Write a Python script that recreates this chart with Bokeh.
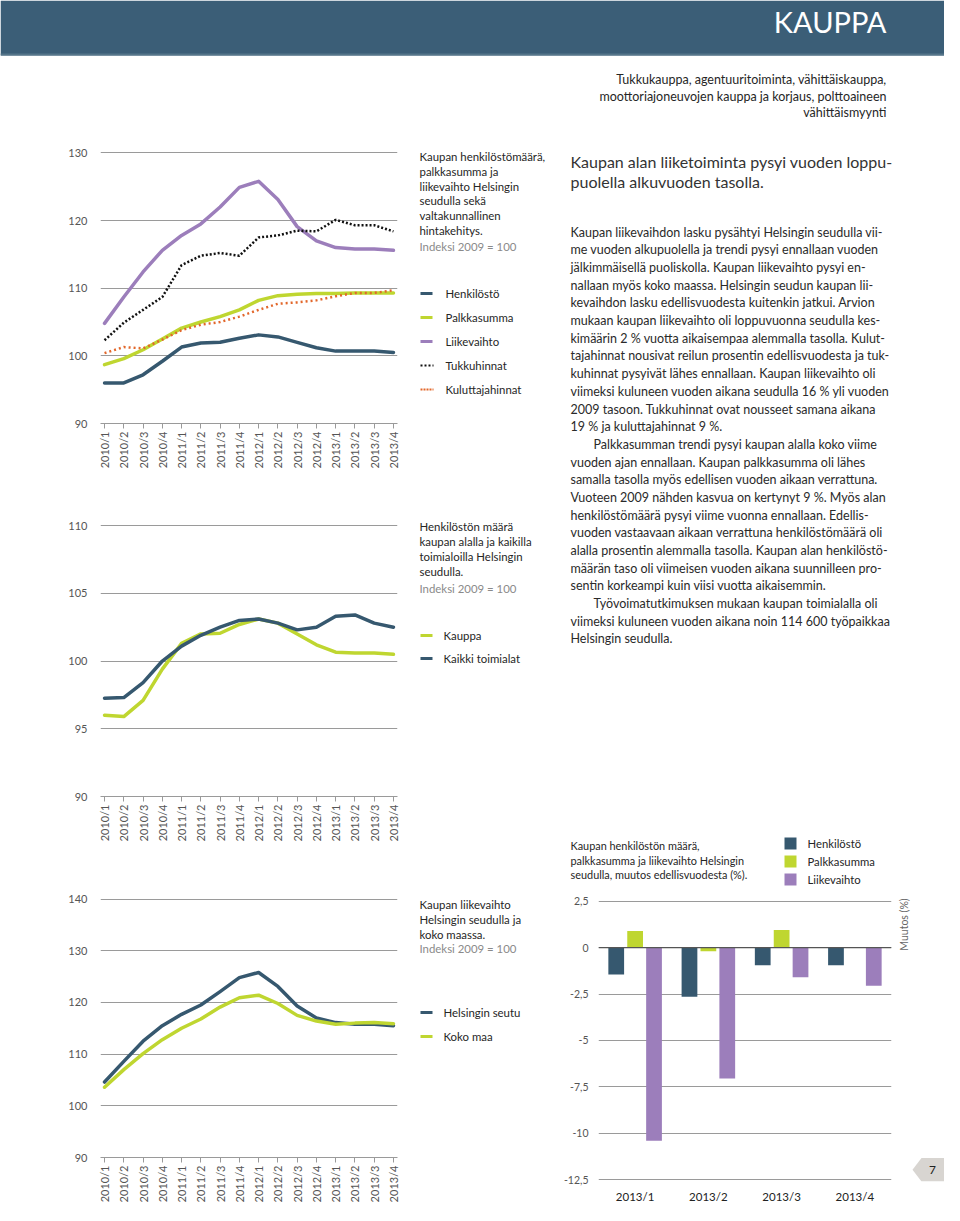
import math
from bokeh.plotting import figure
from bokeh.models import Range1d, FixedTicker, FactorRange, ColumnDataSource, Span
from bokeh.layouts import row, column
from bokeh.transform import dodge
from bokeh.core.properties import value
from bokeh.embed import file_html
from bokeh.resources import INLINE

# ---------------- data ----------------
quarters = ["2010/1", "2010/2", "2010/3", "2010/4", "2011/1", "2011/2", "2011/3", "2011/4",
            "2012/1", "2012/2", "2012/3", "2012/4", "2013/1", "2013/2", "2013/3", "2013/4"]

# Chart 1: index 2009 = 100
henkilosto = [96.0, 96.0, 97.2, 99.2, 101.3, 101.9, 102.0, 102.6, 103.1, 102.8, 102.0, 101.2, 100.7, 100.7, 100.7, 100.5]
palkkasumma = [98.7, 99.6, 100.9, 102.5, 104.1, 105.0, 105.8, 106.8, 108.2, 108.9, 109.1, 109.2, 109.2, 109.3, 109.3, 109.3]
liikevaihto = [104.8, 108.7, 112.4, 115.6, 117.8, 119.5, 122.0, 124.9, 125.8, 123.1, 119.1, 117.0, 116.0, 115.8, 115.8, 115.6]
tukkuhinnat = [102.3, 104.9, 106.8, 108.7, 113.4, 114.8, 115.2, 114.8, 117.5, 117.8, 118.5, 118.4, 120.1, 119.3, 119.3, 118.4]
kuluttajahinnat = [100.4, 101.3, 101.1, 102.4, 103.8, 104.6, 105.0, 105.8, 106.8, 107.7, 107.9, 108.2, 108.8, 109.3, 109.3, 109.7]

# Chart 2
kauppa = [96.0, 95.9, 97.1, 99.4, 101.3, 102.0, 102.05, 102.7, 103.1, 102.8, 102.0, 101.2, 100.65, 100.6, 100.6, 100.5]
kaikki_toimialat = [97.26, 97.3, 98.4, 100.0, 101.1, 101.9, 102.5, 103.0, 103.1, 102.8, 102.3, 102.5, 103.3, 103.4, 102.8, 102.5]

# Chart 3
helsingin_seutu = [104.6, 108.6, 112.5, 115.5, 117.7, 119.5, 122.1, 124.8, 125.8, 123.1, 119.3, 117.0, 116.1, 115.8, 115.8, 115.5]
koko_maa = [103.6, 107.0, 110.1, 112.8, 115.0, 116.8, 119.1, 120.9, 121.4, 119.8, 117.5, 116.4, 115.8, 116.0, 116.1, 115.9]

# Bar chart: change from previous year (%)
bar_quarters = ["2013/1", "2013/2", "2013/3", "2013/4"]
henk_chg = [-1.45, -2.65, -0.95, -0.95]
palk_chg = [0.9, -0.2, 0.95, 0.0]
liike_chg = [-10.4, -7.05, -1.6, -2.05]
bar_ticks = [-12.5, -10, -7.5, -5, -2.5, 0, 2.5]
bar_tick_labels = ["-12,5", "-10", "-7,5", "-5", "-2,5", "0", "2,5"]

# ---------------- styles ----------------
FONT = "Lato"
HEADER = "#3b5e77"
DARK = "#36586f"
GREEN = "#bfd630"
PURPLE = "#9c7ebb"
ORANGE = "#e2672b"
BLACK = "#111111"
GRID = "#9a9a9a"
TICK = "#555555"
TEXT = "#262626"


def blank(w, h, x0, x1, y0, y1):
    p = figure(width=w, height=h, x_range=Range1d(x0, x1), y_range=Range1d(y1, y0),
               output_backend="svg", toolbar_location=None,
               x_axis_location=None, y_axis_location=None, min_border=0)
    p.grid.visible = False
    p.outline_line_color = None
    return p


def txt(p, xs, ys, lines, size, color=TEXT, align="left", angle=0.0, style="normal"):
    p.text(x=xs, y=ys, text=lines, text_font=value(FONT), text_font_size=value(f"{size}px"),
           text_color=color, text_align=align, text_baseline="middle", angle=angle,
           text_font_style=style)


def line_chart(h, ymin, ymax, ypad, border_top, frame_h):
    w = 410
    left = 100
    fw = 297
    p = figure(width=w, height=h, x_range=Range1d(-0.21, 15.21), y_range=Range1d(ymin, ymax + ypad),
               output_backend="svg", toolbar_location=None,
               min_border_left=left, min_border_right=w - left - fw,
               min_border_top=border_top, min_border_bottom=h - border_top - frame_h)
    p.outline_line_color = None
    p.xgrid.visible = False
    xa = p.xaxis[0]
    xa.ticker = FixedTicker(ticks=list(range(len(quarters))))
    xa.major_label_overrides = {i: q for i, q in enumerate(quarters)}
    xa.major_label_orientation = math.pi / 2
    xa.axis_line_color = GRID
    xa.major_tick_line_color = GRID
    xa.major_tick_out = 5
    xa.major_tick_in = 0
    xa.minor_tick_line_color = None
    xa.major_label_standoff = 3
    xa.major_label_text_font = FONT
    xa.major_label_text_font_size = "11px"
    xa.major_label_text_color = TICK
    ya = p.yaxis[0]
    step = 10 if ymax - ymin > 20 else 5
    yt = list(range(ymin, ymax + 1, step))
    ya.ticker = FixedTicker(ticks=yt)
    ya.axis_line_color = None
    ya.major_tick_line_color = None
    ya.minor_tick_line_color = None
    ya.major_label_standoff = 7
    ya.major_label_text_font = FONT
    ya.major_label_text_font_size = "11px"
    ya.major_label_text_color = TICK
    p.ygrid.ticker = FixedTicker(ticks=yt)
    p.ygrid.grid_line_color = GRID
    return p


xs = list(range(len(quarters)))
SOLID = dict(line_width=3.5, line_join="round", line_cap="round")

# ---------------- header ----------------
head = blank(944, 140, 0, 944, 0, 140)
head.quad(left=[0], right=[944], top=[0], bottom=[55], fill_color=HEADER, line_color=None)
head.line([0, 944], [54, 54], color="#557589", line_width=2)
txt(head, [886], [21], ["KAUPPA"], 29, color="white", align="right")
txt(head, [886, 886, 886], [79, 96, 112],
    ["Tukkukauppa, agentuuritoiminta, vähittäiskauppa,",
     "moottoriajoneuvojen kauppa ja korjaus, polttoaineen",
     "vähittäismyynti"], 12.5, align="right")

# ---------------- chart 1 ----------------
c1 = line_chart(360, 90, 130, 0.5, 9, 274)
c1.line(xs, liikevaihto, color=PURPLE, **SOLID)
c1.line(xs, palkkasumma, color=GREEN, **SOLID)
c1.line(xs, henkilosto, color=DARK, **SOLID)
c1.line(xs, tukkuhinnat, color=BLACK, line_width=2.5, line_dash="2 2")
c1.line(xs, kuluttajahinnat, color=ORANGE, line_width=2.5, line_dash="2 3")

# ---------------- chart 2 ----------------
c2 = line_chart(380, 90, 110, 0.3, 21, 275)
c2.line(xs, kauppa, color=GREEN, **SOLID)
c2.line(xs, kaikki_toimialat, color=DARK, **SOLID)

# ---------------- chart 3 ----------------
c3 = line_chart(325, 90, 140, 0.5, 16, 266)
c3.line(xs, helsingin_seutu, color=DARK, **SOLID)
c3.line(xs, koko_maa, color=GREEN, **SOLID)

left_charts = column(c1, c2, c3, spacing=0)

# ---------------- legends column ----------------
LF = 11.4
lg = blank(150, 1065, 410, 560, 140, 1205)
t1 = ["Kaupan henkilöstömäärä,", "palkkasumma ja", "liikevaihto Helsingin",
      "seudulla sekä", "valtakunnallinen", "hintakehitys."]
txt(lg, [419] * 6, [156 + 14.8 * k for k in range(6)], t1, LF)
txt(lg, [419], [246], ["Indeksi 2009 = 100"], LF, color="#8a8a8a")
items1 = [("Henkilöstö", DARK, None), ("Palkkasumma", GREEN, None), ("Liikevaihto", PURPLE, None),
          ("Tukkuhinnat", BLACK, "2 2"), ("Kuluttajahinnat", ORANGE, "2 1")]
for k, (lab, col, dash) in enumerate(items1):
    yy = 293 + 24 * k
    if dash is None:
        lg.line([420, 432], [yy, yy], color=col, line_width=3)
    else:
        lg.line([420, 433], [yy, yy], color=col, line_width=2, line_dash=dash)
    txt(lg, [445], [yy], [lab], LF)

t2 = ["Henkilöstön määrä", "kaupan alalla ja kaikilla", "toimialoilla Helsingin", "seudulla."]
txt(lg, [419] * 4, [526 + 15 * k for k in range(4)], t2, LF)
txt(lg, [419], [588], ["Indeksi 2009 = 100"], LF, color="#8a8a8a")
for k, (lab, col) in enumerate([("Kauppa", GREEN), ("Kaikki toimialat", DARK)]):
    yy = 635 + 23 * k
    lg.line([420, 432], [yy, yy], color=col, line_width=3)
    txt(lg, [443], [yy], [lab], LF)

t3 = ["Kaupan liikevaihto", "Helsingin seudulla ja", "koko maassa."]
txt(lg, [419] * 3, [904 + 15 * k for k in range(3)], t3, LF)
txt(lg, [419], [948], ["Indeksi 2009 = 100"], LF, color="#8a8a8a")
for k, (lab, col) in enumerate([("Helsingin seutu", DARK), ("Koko maa", GREEN)]):
    yy = 1012 + 24 * k
    lg.line([420, 432], [yy, yy], color=col, line_width=3)
    txt(lg, [443], [yy], [lab], LF)

# ---------------- right text column ----------------
tx = blank(384, 750, 560, 944, 140, 890)
txt(tx, [570, 570], [161, 181],
    ["Kaupan alan liiketoiminta pysyi vuoden loppu-", "puolella alkuvuoden tasolla."], 16, color="#333333")
body = [
    "Kaupan liikevaihdon lasku pysähtyi Helsingin seudulla vii-",
    "me vuoden alkupuolella ja trendi pysyi ennallaan vuoden",
    "jälkimmäisellä puoliskolla. Kaupan liikevaihto pysyi en-",
    "nallaan myös koko maassa. Helsingin seudun kaupan lii-",
    "kevaihdon lasku edellisvuodesta kuitenkin jatkui. Arvion",
    "mukaan kaupan liikevaihto oli loppuvuonna seudulla kes-",
    "kimäärin 2 % vuotta aikaisempaa alemmalla tasolla. Kulut-",
    "tajahinnat nousivat reilun prosentin edellisvuodesta ja tuk-",
    "kuhinnat pysyivät lähes ennallaan. Kaupan liikevaihto oli",
    "viimeksi kuluneen vuoden aikana seudulla 16 % yli vuoden",
    "2009 tasoon. Tukkuhinnat ovat nousseet samana aikana",
    "19 % ja kuluttajahinnat 9 %.",
    "Palkkasumman trendi pysyi kaupan alalla koko viime",
    "vuoden ajan ennallaan. Kaupan palkkasumma oli lähes",
    "samalla tasolla myös edellisen vuoden aikaan verrattuna.",
    "Vuoteen 2009 nähden kasvua on kertynyt 9 %. Myös alan",
    "henkilöstömäärä pysyi viime vuonna ennallaan. Edellis-",
    "vuoden vastaavaan aikaan verrattuna henkilöstömäärä oli",
    "alalla prosentin alemmalla tasolla. Kaupan alan henkilöstö-",
    "määrän taso oli viimeisen vuoden aikana suunnilleen pro-",
    "sentin korkeampi kuin viisi vuotta aikaisemmin.",
    "Työvoimatutkimuksen mukaan kaupan toimialalla oli",
    "viimeksi kuluneen vuoden aikana noin 114 600 työpaikkaa",
    "Helsingin seudulla.",
]
indented = {12, 21}
bx = [593 if k in indented else 570 for k in range(len(body))]
by = [231.7 + 17.68 * k for k in range(len(body))]
txt(tx, bx, by, body, 12.5, color="#2a2a2a")

# bar chart title and legend
txt(tx, [570, 570, 570], [845, 859.5, 874],
    ["Kaupan henkilöstön määrä,", "palkkasumma ja liikevaihto Helsingin",
     "seudulla, muutos  edellisvuodesta (%)."], 10.9)
for k, (lab, col) in enumerate([("Henkilöstö", DARK), ("Palkkasumma", GREEN), ("Liikevaihto", PURPLE)]):
    yy = 843 + 18 * k
    tx.quad(left=[784], right=[796], top=[yy - 6], bottom=[yy + 6], fill_color=col, line_color=None)
    txt(tx, [807], [yy], [lab], 11.3)

# ---------------- bar chart ----------------
src = ColumnDataSource(dict(q=bar_quarters, henk=henk_chg, palk=palk_chg, liike=liike_chg))
bh = 315
btop = 7
bframe = 293
bc = figure(width=333, height=bh, x_range=FactorRange(factors=bar_quarters, range_padding=0),
            y_range=Range1d(-12.6, 2.7), output_backend="svg", toolbar_location=None,
            min_border_left=27, min_border_right=2, min_border_top=btop,
            min_border_bottom=bh - btop - bframe)
bc.outline_line_color = None
bc.xgrid.visible = False
bc.ygrid.ticker = FixedTicker(ticks=bar_ticks)
bc.ygrid.grid_line_color = GRID
bc.add_layout(Span(location=0, dimension="width", line_color="#555555", line_width=1.2))
W = 0.215
OFF = 0.258
bc.vbar(x=dodge("q", -OFF, range=bc.x_range), top="henk", bottom=0, width=W, source=src,
        fill_color=DARK, line_color=None)
bc.vbar(x=dodge("q", 0.0, range=bc.x_range), top="palk", bottom=0, width=W, source=src,
        fill_color=GREEN, line_color=None)
bc.vbar(x=dodge("q", OFF, range=bc.x_range), top="liike", bottom=0, width=W, source=src,
        fill_color=PURPLE, line_color=None)
bxa = bc.xaxis[0]
bxa.axis_line_color = None
bxa.major_tick_line_color = None
bxa.minor_tick_line_color = None
bxa.major_label_standoff = 2
bxa.major_label_text_font = FONT
bxa.major_label_text_font_size = "11.5px"
bxa.major_label_text_color = "#222222"
bya = bc.yaxis[0]
bya.ticker = FixedTicker(ticks=bar_ticks)
bya.major_label_overrides = {float(t): l for t, l in zip(bar_ticks, bar_tick_labels)}
bya.axis_line_color = None
bya.major_tick_line_color = None
bya.minor_tick_line_color = None
bya.major_label_standoff = 4
bya.major_label_text_font = FONT
bya.major_label_text_font_size = "10.5px"
bya.major_label_text_color = TICK

side = blank(51, 315, 893, 944, 890, 1205)
txt(side, [903], [920], ["Muutos (%)"], 10.5, color="#666666", align="center", angle=math.pi / 2)
side.patch([912, 921, 944, 944, 921], [1192, 1179, 1179, 1205, 1205], fill_color="#d8d5d1", line_color=None)
txt(side, [932], [1192], ["7"], 12, color="#222222", align="center")

right_col = column(tx, row(bc, side, spacing=0), spacing=0)

page = column(head, row(left_charts, lg, right_col, spacing=0), spacing=0)

open("out.html", "w").write(file_html(page, INLINE))
